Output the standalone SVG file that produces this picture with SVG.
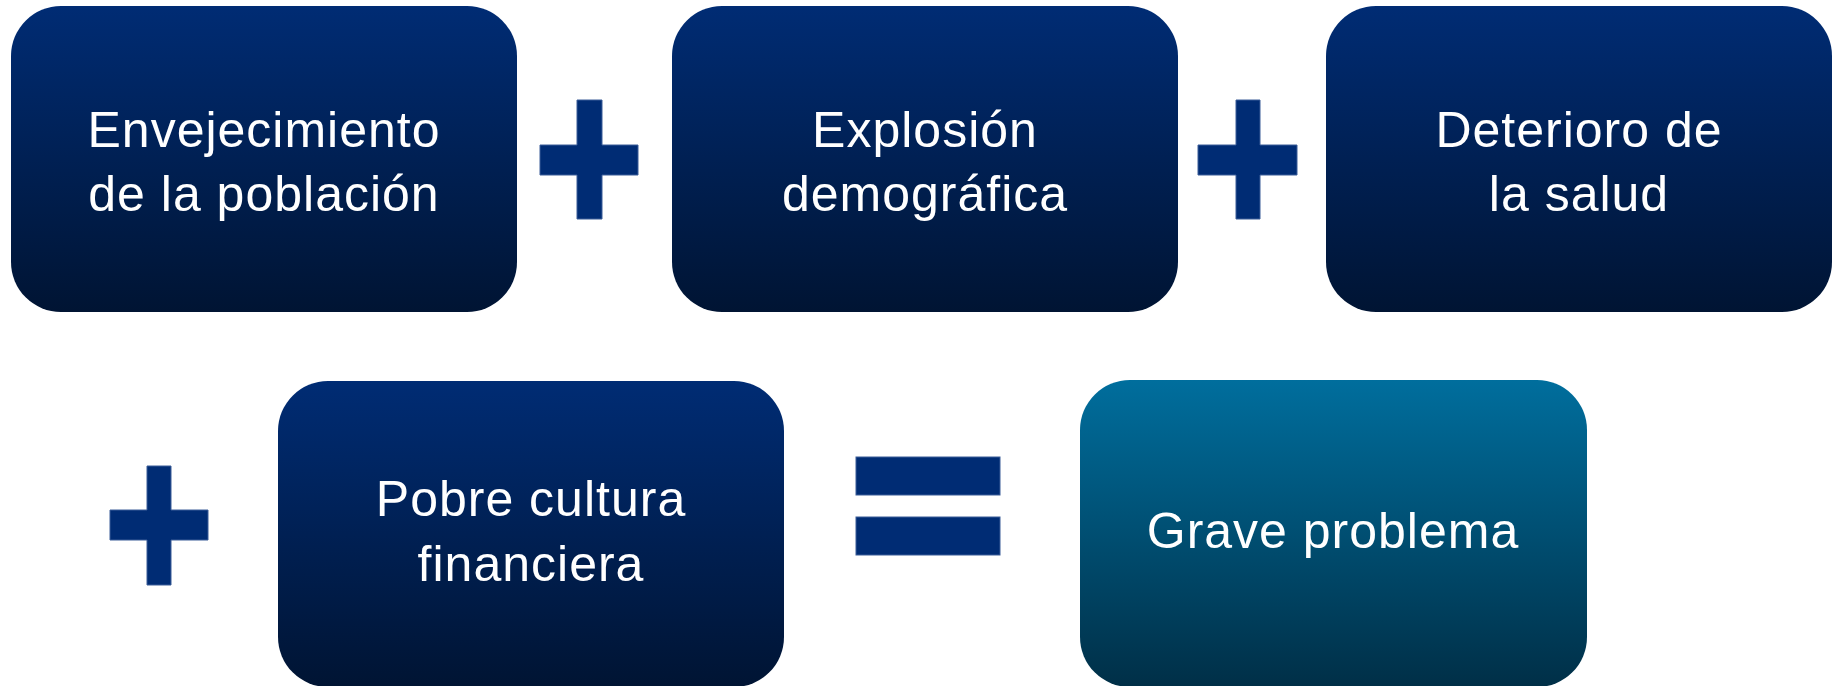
<svg xmlns="http://www.w3.org/2000/svg" width="1836" height="686" viewBox="0 0 1836 686">
  <defs>
    <linearGradient id="gNavy" x1="0" y1="0" x2="0" y2="1">
      <stop offset="0" stop-color="#002C74"/>
      <stop offset="1" stop-color="#001433"/>
    </linearGradient>
    <linearGradient id="gTeal" x1="0" y1="0" x2="0" y2="1">
      <stop offset="0" stop-color="#006E9D"/>
      <stop offset="1" stop-color="#002F47"/>
    </linearGradient>
    <style>
      .box { fill: url(#gNavy); }
      .box2 { fill: url(#gTeal); }
      .op { fill: #002C74; stroke: #3A5C98; stroke-width: 1; }
      .t { fill: #FFFFFF; font-family: "Liberation Sans", Arial, sans-serif; font-size: 50px; letter-spacing: 1px; text-anchor: middle; }
    </style>
  </defs>

  <g id="node-envejecimiento">
    <rect class="box" x="11" y="6" width="506" height="306" rx="50" ry="50"/>
    <text class="t" x="264" y="147">Envejecimiento</text>
    <text class="t" x="264" y="211">de la población</text>
  </g>

  <g id="node-explosion">
    <rect class="box" x="672" y="6" width="506" height="306" rx="50" ry="50"/>
    <text class="t" x="925" y="147">Explosión</text>
    <text class="t" x="925" y="211">demográfica</text>
  </g>

  <g id="node-deterioro">
    <rect class="box" x="1326" y="6" width="506" height="306" rx="50" ry="50"/>
    <text class="t" x="1579" y="147">Deterioro de</text>
    <text class="t" x="1579" y="211">la salud</text>
  </g>

  <g id="node-pobre">
    <rect class="box" x="278" y="381" width="506" height="306" rx="50" ry="50"/>
    <text class="t" x="531" y="516">Pobre cultura</text>
    <text class="t" x="531" y="581">financiera</text>
  </g>

  <g id="node-grave">
    <rect class="box2" x="1080" y="380" width="507" height="307" rx="50" ry="50"/>
    <text class="t" x="1333" y="548">Grave problema</text>
  </g>

  <g id="operators">
    <path class="op" d="M577,100 H602 V145 H638 V175 H602 V219 H577 V175 H540 V145 H577 Z"/>
    <path class="op" d="M1236,100 H1260 V145 H1297 V175 H1260 V219 H1236 V175 H1198 V145 H1236 Z"/>
    <path class="op" d="M147,466 H171 V510 H208 V540 H171 V585 H147 V540 H110 V510 H147 Z"/>
    <rect class="op" x="856" y="457" width="144" height="38"/>
    <rect class="op" x="856" y="517" width="144" height="38"/>
  </g>
</svg>
